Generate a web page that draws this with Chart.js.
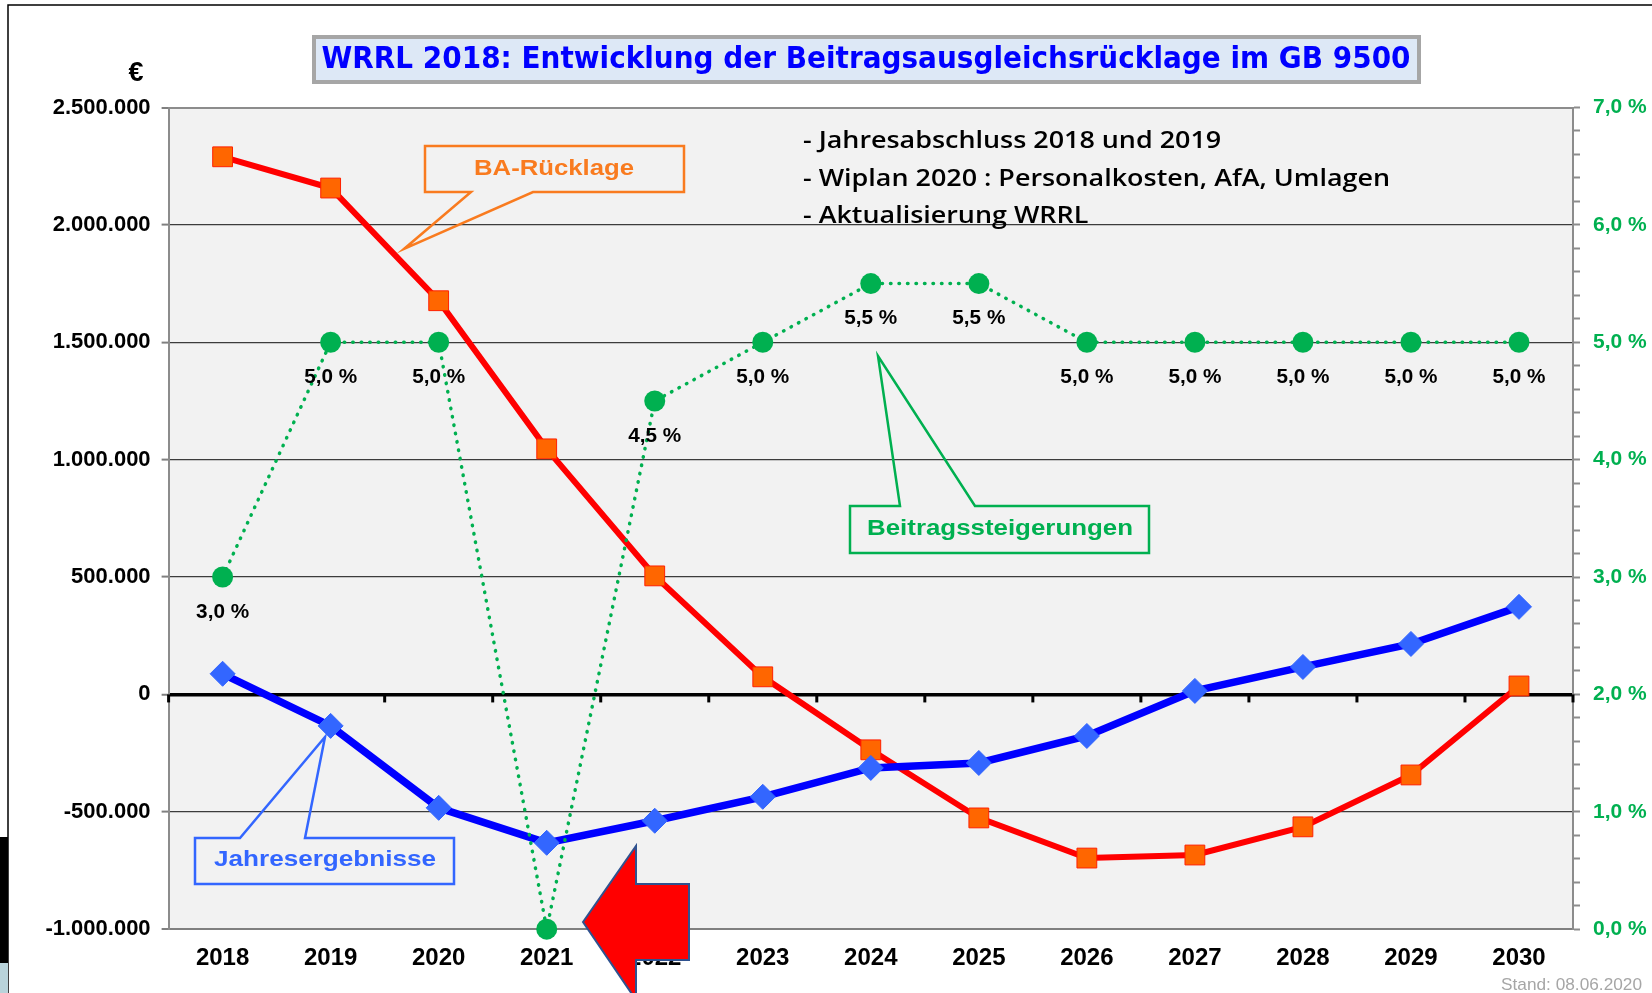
<!DOCTYPE html>
<html>
<head>
<meta charset="utf-8">
<script src="https://cdn.jsdelivr.net/npm/chart.js@4.4.1/dist/chart.umd.min.js"></script>
<style>
  html, body { margin: 0; padding: 0; background: #fff; overflow: hidden; }
  canvas { display: block; }
</style>
</head>
<body>
<canvas id="chart" width="1652" height="993"></canvas>
<script>
// Werte
const years = ['2018', '2019', '2020', '2021', '2022', '2023', '2024', '2025', '2026', '2027', '2028', '2029', '2030'];
const ruecklage = [2290000, 2157000, 1677000, 1046000, 505000, 75000, -236000, -526000, -697000, -684000, -564000, -343000, 36000];
const jahresergebnis = [88000, -134000, -483000, -632000, -538000, -436000, -313000, -292000, -177000, 15000, 117000, 215000, 373000];
const steigerung = [3.0, 5.0, 5.0, 0.0, 4.5, 5.0, 5.5, 5.5, 5.0, 5.0, 5.0, 5.0, 5.0];

const euroMin = -1000000, euroMax = 2500000, euroStep = 500000;
const pctMin = 0, pctMax = 7, pctStep = 0.2;

const infoLines = ['- Jahresabschluss 2018 und 2019', '- Wiplan 2020 : Personalkosten, AfA, Umlagen', '- Aktualisierung WRRL'];

const tickFont = 'Liberation Sans, Arial, sans-serif';

function fmtEuro(v) {
  const s = String(Math.abs(v)).replace(/\B(?=(\d{3})+(?!\d))/g, '.');
  return (v < 0 ? '-' : '') + s;
}
function fmtPct(v) {
  return v.toFixed(1).replace('.', ',') + ' %';
}

// text, horizontal auf eine Breite gezogen
function fitText(ctx, text, x, y, font, color, width, align) {
  ctx.save();
  ctx.font = font;
  ctx.fillStyle = color;
  ctx.textBaseline = 'middle';
  ctx.textAlign = align || 'center';
  const w = ctx.measureText(text).width;
  const sx = width ? width / w : 1;
  ctx.translate(x, y);
  ctx.scale(sx, 1);
  ctx.fillText(text, 0, 0);
  ctx.restore();
}

function shape(ctx, pts, stroke, lw, fill) {
  ctx.save();
  ctx.beginPath();
  ctx.moveTo(pts[0][0], pts[0][1]);
  for (let i = 1; i < pts.length; i++) ctx.lineTo(pts[i][0], pts[i][1]);
  ctx.closePath();
  if (fill) { ctx.fillStyle = fill; ctx.fill(); }
  ctx.lineJoin = 'miter';
  ctx.strokeStyle = stroke;
  ctx.lineWidth = lw;
  ctx.stroke();
  ctx.restore();
}

const deco = {
  id: 'deco',
  beforeDraw(chart) {
    const ctx = chart.ctx, a = chart.chartArea;
    ctx.save();
    ctx.fillStyle = '#fff';
    ctx.fillRect(0, 0, chart.width, chart.height);
    // rahmen
    ctx.strokeStyle = '#000';
    ctx.lineWidth = 1.5;
    ctx.beginPath();
    ctx.moveTo(1652, 5); ctx.lineTo(8, 5); ctx.lineTo(8, 993);
    ctx.stroke();
    ctx.fillStyle = '#000';
    ctx.fillRect(0, 837, 8, 126);
    ctx.fillStyle = '#b9d3da';
    ctx.fillRect(0, 963, 8, 30);
    // plotfläche
    ctx.fillStyle = '#f2f2f2';
    ctx.fillRect(a.left, a.top, a.right - a.left, a.bottom - a.top);
    ctx.restore();
  },
  beforeDatasetsDraw(chart) {
    // tick marks at the zero line
    const ctx = chart.ctx, xs = chart.scales.x, ys = chart.scales.y;
    const y0 = ys.getPixelForValue(0);
    const w = xs.getPixelForValue(1) - xs.getPixelForValue(0);
    ctx.save();
    ctx.strokeStyle = '#000';
    ctx.lineWidth = 3;
    for (let i = 0; i <= years.length; i++) {
      const x = xs.getPixelForValue(Math.min(i, years.length - 1)) + (i < years.length ? -w / 2 : w / 2);
      ctx.beginPath();
      ctx.moveTo(x, y0);
      ctx.lineTo(x, y0 + 8);
      ctx.stroke();
    }
    ctx.restore();
  },
  afterDatasetsDraw(chart) {
    const ctx = chart.ctx;
    const meta = chart.getDatasetMeta(2);
    meta.data.forEach((pt, i) => {
      if (steigerung[i] > 0) fitText(ctx, fmtPct(steigerung[i]), pt.x, pt.y + 35, 'bold 21px ' + tickFont, '#000', 53);
    });
  },
  afterDraw(chart) {
    const ctx = chart.ctx;
    // titel
    ctx.save();
    ctx.fillStyle = '#dde8f6';
    ctx.fillRect(314, 37, 1105, 45);
    ctx.strokeStyle = '#a6a6a6';
    ctx.lineWidth = 4;
    ctx.strokeRect(314, 37, 1105, 45);
    ctx.restore();
    fitText(ctx, 'WRRL 2018: Entwicklung der Beitragsausgleichsrücklage im GB 9500', 866, 60,
      'bold 31px DejaVu Sans, Verdana, sans-serif', '#0000ff', 1089);

    fitText(ctx, '€', 136, 74, 'bold 27px ' + tickFont, '#000');

    // info text
    ctx.save();
    ctx.font = '600 24px Open Sans, sans-serif';
    const sx = 587 / ctx.measureText(infoLines[1]).width;
    ctx.restore();
    infoLines.forEach((t, i) => {
      ctx.save();
      ctx.font = '600 24px Open Sans, sans-serif';
      ctx.fillStyle = '#000';
      ctx.textBaseline = 'alphabetic';
      ctx.translate(803, 148 + i * 37.5);
      ctx.scale(sx, 1);
      ctx.fillText(t, 0, 0);
      ctx.restore();
    });

    // callouts
    const orange = '#f97b1f', blue = '#3366ff', green = '#00b050';
    shape(ctx, [[425, 146], [684, 146], [684, 192], [533, 192], [404, 249], [471, 192], [425, 192]], orange, 2.5);
    fitText(ctx, 'BA-Rücklage', 554, 169, 'bold 22px ' + tickFont, orange, 160);

    shape(ctx, [[195, 838], [240, 838], [325, 737], [305, 838], [454, 838], [454, 884], [195, 884]], blue, 2.5);
    fitText(ctx, 'Jahresergebnisse', 325, 860, 'bold 22px ' + tickFont, blue, 222);

    shape(ctx, [[850, 506], [900, 506], [878, 356], [975, 506], [1149, 506], [1149, 553], [850, 553]], green, 2.5);
    fitText(ctx, 'Beitragssteigerungen', 1000, 529, 'bold 22px ' + tickFont, green, 266);

    // roter pfeil
    shape(ctx, [[583, 922], [636, 846], [636, 884], [689, 884], [689, 960], [636, 960], [636, 1000]], '#2f528f', 2, '#ff0000');

    fitText(ctx, 'Stand: 08.06.2020', 1642, 985, '17px ' + tickFont, '#a6a6a6', 141, 'right');
  }
};

function isEdge(v) { return v === euroMax || v === euroMin; }

new Chart(document.getElementById('chart').getContext('2d'), {
  type: 'line',
  data: {
    labels: years,
    datasets: [
      {
        label: 'BA-Rücklage',
        data: ruecklage,
        yAxisID: 'y',
        borderColor: '#ff0000',
        borderWidth: 6,
        pointStyle: 'rect',
        pointRadius: 14,
        pointBackgroundColor: '#ff6600',
        pointBorderColor: '#ff2000',
        pointBorderWidth: 1,
        clip: false,
        order: 3
      },
      {
        label: 'Jahresergebnisse',
        data: jahresergebnis,
        yAxisID: 'y',
        borderColor: '#0000ff',
        borderWidth: 7.5,
        pointStyle: 'rectRot',
        pointRadius: 12.5,
        pointBackgroundColor: '#3366ff',
        pointBorderColor: '#3366ff',
        pointBorderWidth: 1,
        clip: false,
        order: 2
      },
      {
        label: 'Beitragssteigerungen',
        data: steigerung,
        yAxisID: 'y1',
        borderColor: '#00b050',
        borderWidth: 3.5,
        borderDash: [0.5, 8],
        borderCapStyle: 'round',
        pointStyle: 'circle',
        pointRadius: 10.5,
        pointBackgroundColor: '#00b050',
        pointBorderColor: '#00b050',
        pointBorderWidth: 0,
        clip: false,
        order: 1
      }
    ]
  },
  options: {
    responsive: false,
    animation: false,
    events: [],
    layout: { padding: { top: 107.5, left: 0, right: 0, bottom: 0 } },
    plugins: { legend: { display: false }, tooltip: { enabled: false }, title: { display: false } },
    scales: {
      x: {
        type: 'category',
        offset: true,
        grid: { display: false, drawTicks: false },
        border: { display: true, color: '#808080', width: 2 },
        ticks: { color: '#000', font: { family: tickFont, size: 24, weight: 'bold' }, padding: 15, maxRotation: 0, autoSkip: false },
        afterFit: s => { s.height = 63.8; }
      },
      y: {
        position: 'left',
        min: euroMin,
        max: euroMax,
        ticks: { stepSize: euroStep, callback: v => fmtEuro(v), color: '#000', font: { family: tickFont, size: 22, weight: 'bold' }, padding: 11 },
        grid: {
          color: c => c.tick.value === 0 ? '#000' : (isEdge(c.tick.value) ? '#8c8c8c' : '#3c3c3c'),
          lineWidth: c => c.tick.value === 0 ? 3.5 : (isEdge(c.tick.value) ? 2 : 1.2),
          tickLength: 7,
          tickColor: '#808080',
          tickWidth: 2
        },
        border: { color: '#8c8c8c', width: 2 },
        afterFit: s => { s.width = 168.6; }
      },
      y1: {
        position: 'right',
        min: pctMin,
        max: pctMax,
        ticks: {
          stepSize: pctStep,
          autoSkip: false,
          callback: v => Math.abs(v - Math.round(v)) < 1e-6 ? fmtPct(Math.round(v)) : '',
          color: '#00b050',
          font: { family: tickFont, size: 21, weight: 'bold' },
          padding: 13
        },
        grid: { drawOnChartArea: false, tickLength: 7, tickColor: '#8c8c8c', tickWidth: 2 },
        border: { color: '#8c8c8c', width: 2 },
        afterFit: s => { s.width = 79; }
      }
    }
  },
  plugins: [deco]
});
</script>
</body>
</html>
